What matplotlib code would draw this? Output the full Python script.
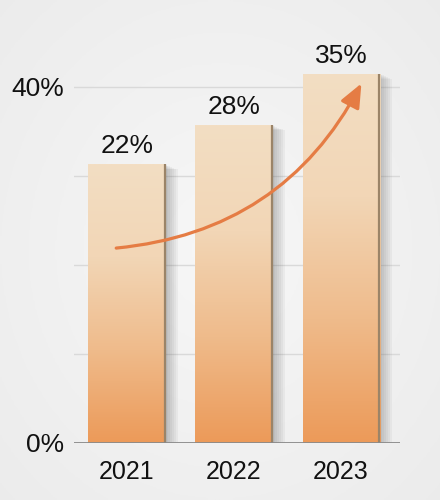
import numpy as np
import matplotlib.pyplot as plt
import matplotlib.patheffects as pe
from matplotlib.colors import LinearSegmentedColormap
from matplotlib.patches import FancyArrowPatch

years = ["2021", "2022", "2023"]
value_labels = ["22%", "28%", "35%"]
# bar heights as drawn against the axis (the picture does not draw them to scale)
heights = [31.3, 35.7, 41.5]
ytick_values = [0, 40]
ytick_labels = ["0%", "40%"]
grid_levels = [10, 20, 30, 40]
# trend arrow: (bar position, %) at tail and head
arrow_tail = (-0.10, 21.9)
arrow_head = (2.19, 40.4)

plt.rcParams['font.family'] = ['Liberation Sans', 'DejaVu Sans']

fig = plt.figure(figsize=(4.4, 5.0), dpi=100)

# soft light-grey backdrop
bg = fig.add_axes([0, 0, 1, 1], zorder=-5)
yy, xx = np.mgrid[-1:1:200j, -1:1:200j]
r = np.sqrt(xx ** 2 + yy ** 2)
bg_cmap = LinearSegmentedColormap.from_list('bg', ['#f7f7f7', '#ebebeb'])
bg.imshow(r, cmap=bg_cmap, aspect='auto', extent=[0, 1, 0, 1], vmin=0, vmax=1.5)
bg.set_axis_off()

ax = fig.add_axes([0.168, 0.114, 0.741, 0.801])
ax.patch.set_alpha(0)

x = np.arange(len(years))
shadow = [pe.SimplePatchShadow(offset=(d, -0.4 * d), shadow_rgbFace='#555555', alpha=0.06)
          for d in (1, 2, 3, 4.5, 6, 7.5, 9)]
bars = ax.bar(x, heights, width=0.72, color='#efc7a0', zorder=2,
              path_effects=shadow + [pe.Normal()])

bar_cmap = LinearSegmentedColormap.from_list('bar', ['#ec9a59', '#efbb8b', '#f2d6b6', '#f3dec3'])
grad = np.linspace(0, 1, 256).reshape(-1, 1)
for b in bars:
    x0, w, h = b.get_x(), b.get_width(), b.get_height()
    im = ax.imshow(grad, cmap=bar_cmap, origin='lower', aspect='auto',
                   extent=[x0, x0 + w, 0, h], zorder=3)
    im.set_clip_path(b)
    ax.vlines(x0 + w - 0.008, 0, h, color='#9b8468', lw=1.6, zorder=4)

for i, lab in enumerate(value_labels):
    ax.annotate(lab, (x[i], heights[i]), xytext=(0, 8), textcoords='offset points',
                ha='center', va='baseline', fontsize=19, color='#111111', zorder=6)

for g in grid_levels:
    ax.axhline(g, color='#d9d9d9', lw=1.0, zorder=1)
ax.axhline(0, color='#8a8a8a', lw=1.3, zorder=5)

arrow = FancyArrowPatch(arrow_tail, arrow_head, connectionstyle='arc3,rad=0.27',
                        arrowstyle='-|>,head_length=0.8,head_width=0.34',
                        mutation_scale=18, color='#e57c44', lw=2.3, zorder=7,
                        shrinkA=0, shrinkB=0)
ax.add_patch(arrow)

ax.set_xlim(-0.495, 2.55)
ax.set_ylim(0, 45)
ax.set_xticks(x, years, fontsize=18)
ax.set_yticks(ytick_values, ytick_labels, fontsize=19)
ax.tick_params(axis='x', length=0, pad=12, colors='#111111')
ax.tick_params(axis='y', length=0, pad=7, colors='#111111')
for s in ax.spines.values():
    s.set_visible(False)

fig.savefig('out.png', dpi=100)
